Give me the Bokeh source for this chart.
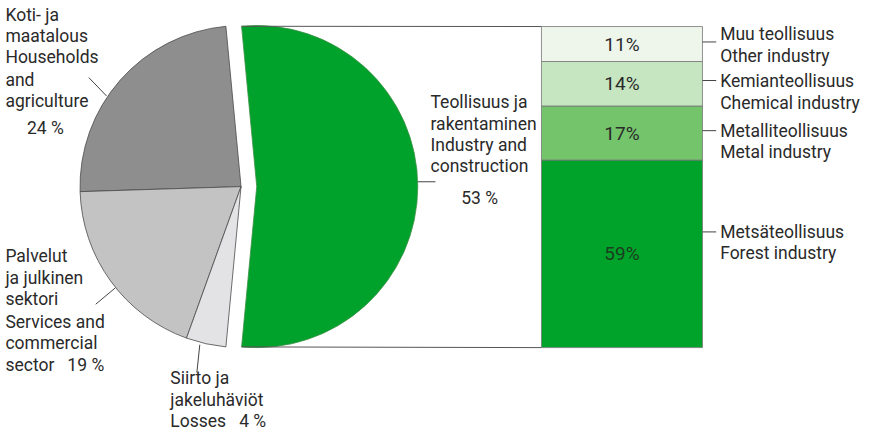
import numpy as np
from bokeh.plotting import figure
from bokeh.models import Range1d, ColumnDataSource
from bokeh.core.properties import value
from bokeh.embed import file_html
from bokeh.resources import INLINE

# ---------------- data ----------------
sector_fi = ["Teollisuus ja rakentaminen", "Koti- ja maatalous", "Palvelut ja julkinen sektori", "Siirto ja jakeluhäviöt"]
sector_en = ["Industry and construction", "Households and agriculture", "Services and commercial sector", "Losses"]
sector_share = [53, 24, 19, 4]

industry_fi = ["Metsäteollisuus", "Metalliteollisuus", "Kemianteollisuus", "Muu teollisuus"]
industry_en = ["Forest industry", "Metal industry", "Chemical industry", "Other industry"]
industry_share = [59, 17, 14, 11]

# ---------------- styles / layout ----------------
FONT = value("Roboto")
FS = "17.5px"
TXT = "#2a2a2a"
NB = "\u00a0"
sector_colors = ["#00a22b", "#8e8e8e", "#c3c3c3", "#e3e3e6"]
industry_colors = ["#00a32a", "#74c46c", "#c6e6c1", "#eef6ec"]
industry_text = ["#1d3d1f", "#2a2a2a", "#2a2a2a", "#2a2a2a"]

W, H = 862, 431          # screen size of the plot
DW, DH = 878, 447        # data units (reference layout)
sx, sy = DW / W, DH / H  # data units per screen px
def Y(py):  # reference pixel row -> data y
    return DH - py

p = figure(width=W, height=H, output_backend="svg", toolbar_location=None,
           x_range=Range1d(0, DW), y_range=Range1d(0, DH),
           min_border=0, outline_line_color=None)
p.axis.visible = False
p.grid.visible = False

# pie geometry
cx, cy, R, explode = 245, Y(193), 167, 16
R_scr = R / sy
share = np.array(sector_share, dtype=float)
ang = share / share.sum() * 2 * np.pi
a0 = ang[0] / 2  # industry slice centred on the right

# industry slice (exploded)
p.wedge(x=[cx + explode], y=[cy], radius=R_scr, radius_units="screen",
        start_angle=[-a0], end_angle=[a0],
        fill_color=sector_colors[0], line_color="#3c8f45", line_width=0.8)

# other slices
ends = a0 + np.cumsum(ang[1:])
starts = ends - ang[1:]
src = ColumnDataSource(dict(s=starts, e=ends, c=sector_colors[1:]))
p.wedge(x=cx, y=cy, radius=R_scr, radius_units="screen", start_angle="s", end_angle="e",
        fill_color="c", line_color="#4a4a4a", line_width=0.8, source=src)

# stacked bar on a percent scale
bar_bottom_py, bar_top_py = 360, 27
total = float(sum(industry_share))
k = (bar_bottom_py - bar_top_py) / total
base = Y(bar_bottom_py)
p.extra_y_ranges = {"pct": Range1d((0 - base) / k, (DH - base) / k)}
tops = np.cumsum(industry_share).astype(float)
bots = tops - np.array(industry_share)
bsrc = ColumnDataSource(dict(b=bots, t=tops, c=industry_colors, tc=industry_text,
                             m=(bots + tops) / 2,
                             lab=[f"{v}%" for v in industry_share]))
bar_x, bar_w = 633, 164
p.vbar(x=bar_x, width=bar_w, bottom="b", top="t", fill_color="c",
       line_color="#777777", line_width=0.8, source=bsrc, y_range_name="pct")
p.text(x=bar_x, y="m", text="lab", source=bsrc, y_range_name="pct",
       text_align="center", text_baseline="middle", text_font=FONT,
       text_font_size="19px", text_color="tc")

# connector lines from the exploded slice to the bar
r_x = R_scr * sx
gx0 = cx + explode + r_x * np.cos(a0)
gy_top = cy + R * np.sin(a0)
gy_bot = cy - R * np.sin(a0)
p.segment(x0=[gx0, gx0], y0=[gy_top, gy_bot],
          x1=[bar_x - bar_w / 2] * 2, y1=[base + total * k, base],
          line_color="#555555", line_width=1)

# labels
def lines(xs, pys, texts, align="left"):
    p.text(x=xs, y=[Y(v) for v in pys], text=texts, text_align=align,
           text_baseline="middle", text_font=FONT, text_font_size=FS,
           text_color=TXT)

# right-side industry labels with ticks
tick_py = [240, 135, 83, 43]
p.segment(x0=[715] * 4, x1=[729] * 4, y0=[Y(v) for v in tick_py],
          y1=[Y(v) for v in tick_py], line_color="#444444", line_width=1)
lab_py = [[240, 262], [135, 157], [83, 106], [35, 58]]
for i in range(4):
    lines([733, 733], lab_py[i], [industry_fi[i], industry_en[i]])

# industry label
lines([438] * 4, [105, 128, 150, 172],
      ["Teollisuus ja", "rakentaminen", "Industry and", "construction"])
lines([488], [205], [f"{sector_share[0]}{NB}%"], align="center")
p.segment(x0=[cx + explode + r_x], x1=[443], y0=[Y(188)], y1=[Y(188)],
          line_color="#444444", line_width=1)

# households label
lines([5] * 5, [15, 37, 59, 82, 104],
      ["Koti- ja", "maatalous", "Households", "and", "agriculture"])
lines([27], [132], [f"{sector_share[1]}{NB}%"])
p.segment(x0=[90], y0=[Y(80)], x1=[108], y1=[Y(99)], line_color="#444444", line_width=1)

# services label
lines([5] * 6, [265, 288, 310, 333, 355, 378],
      ["Palvelut", "ja julkinen", "sektori", "Services and", "commercial",
       f"sector{NB}{NB}{NB}{sector_share[2]}{NB}%"])
p.segment(x0=[97], y0=[Y(315)], x1=[117], y1=[Y(298)], line_color="#444444", line_width=1)

# losses label
lines([173] * 3, [392, 414, 436],
      ["Siirto ja", "jakeluhäviöt", f"Losses{NB}{NB}{NB}{sector_share[3]}{NB}%"])
p.segment(x0=[203], y0=[Y(357)], x1=[200], y1=[Y(386)], line_color="#444444", line_width=1)

open("out.html", "w").write(file_html(p, INLINE))
